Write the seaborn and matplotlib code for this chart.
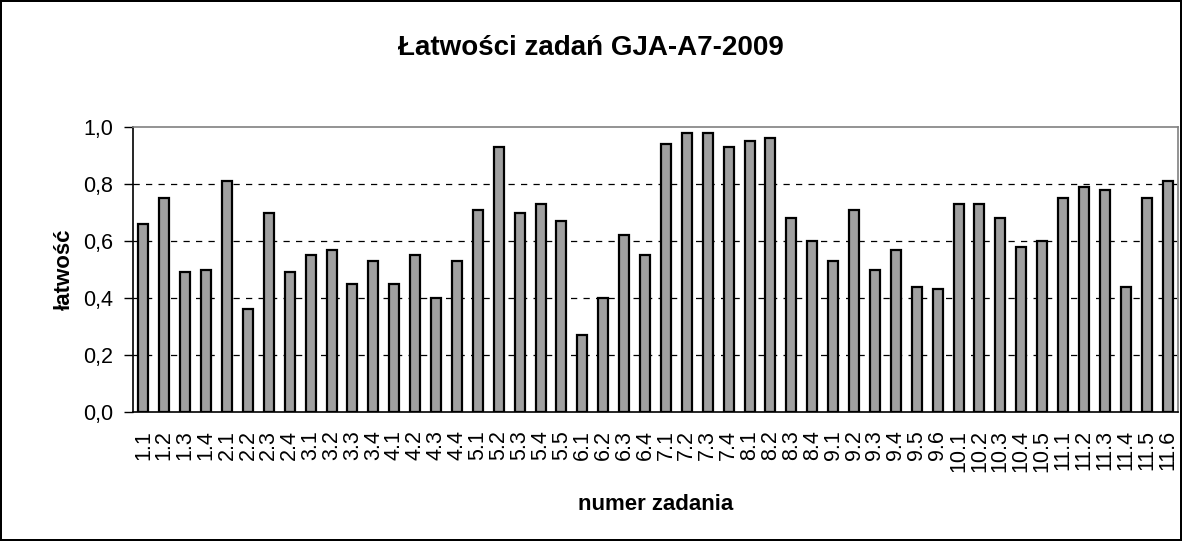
import matplotlib
matplotlib.use("Agg")
import matplotlib.pyplot as plt
import seaborn as sns
import pandas as pd

# task numbers and their facility values
zadania = ["1.1", "1.2", "1.3", "1.4", "2.1", "2.2", "2.3", "2.4",
           "3.1", "3.2", "3.3", "3.4", "4.1", "4.2", "4.3", "4.4",
           "5.1", "5.2", "5.3", "5.4", "5.5", "6.1", "6.2", "6.3", "6.4",
           "7.1", "7.2", "7.3", "7.4", "8.1", "8.2", "8.3", "8.4",
           "9.1", "9.2", "9.3", "9.4", "9.5", "9.6",
           "10.1", "10.2", "10.3", "10.4", "10.5",
           "11.1", "11.2", "11.3", "11.4", "11.5", "11.6"]
latwosc = [0.66, 0.75, 0.49, 0.50, 0.81, 0.36, 0.70, 0.49,
           0.55, 0.57, 0.45, 0.53, 0.45, 0.55, 0.40, 0.53,
           0.71, 0.93, 0.70, 0.73, 0.67, 0.27, 0.40, 0.62, 0.55,
           0.94, 0.98, 0.98, 0.93, 0.95, 0.96, 0.68, 0.60,
           0.53, 0.71, 0.50, 0.57, 0.44, 0.43,
           0.73, 0.73, 0.68, 0.58, 0.60,
           0.75, 0.79, 0.78, 0.44, 0.75, 0.81]
y_ticks = [0.0, 0.2, 0.4, 0.6, 0.8, 1.0]

df = pd.DataFrame({"zadanie": zadania, "latwosc": latwosc})

sns.set_style("white")
plt.rcParams["font.family"] = ["Liberation Sans", "DejaVu Sans"]
plt.rcParams.update({"text.color": "black", "axes.labelcolor": "black",
                     "xtick.color": "black", "ytick.color": "black"})

fig = plt.figure(figsize=(11.82, 5.41), dpi=100, linewidth=1.5, edgecolor="black")
ax = fig.add_axes([0.1125, 0.2384, 0.8841, 0.5268])

sns.barplot(data=df, x="zadanie", y="latwosc", color="#a0a0a0", saturation=1,
            width=0.48, edgecolor="black", linewidth=1.6, ax=ax, zorder=3)

ax.set_ylim(0, 1.0)
ax.set_xlim(-0.5, len(zadania) - 0.5)
ax.set_yticks(y_ticks)
ax.set_yticklabels([f"{v:.1f}".replace(".", ",") for v in y_ticks], fontsize=15.5)
for v in y_ticks[1:-1]:
    ax.axhline(v, color="black", linestyle=(0, (5, 5)), linewidth=0.9, zorder=1)

# labels under bars, ticks on category boundaries
ax.set_xticks(range(len(zadania)))
ax.set_xticklabels(zadania, rotation=90, fontsize=15.5)
ax.set_xticks([i + 0.5 for i in range(-1, len(zadania))], minor=True)
ax.tick_params(axis="x", which="major", length=0, pad=13)
ax.tick_params(axis="x", which="minor", length=6.5, width=1, color="black", direction="out")
ax.tick_params(axis="y", length=6.5, width=1, color="black", direction="out", left=True, pad=8)

for side in ["left", "bottom"]:
    ax.spines[side].set_color("black")
    ax.spines[side].set_linewidth(1.2)
for side in ["top", "right"]:
    ax.spines[side].set_color("#808080")
    ax.spines[side].set_linewidth(1.2)

ax.set_xlabel("numer zadania", fontsize=16, fontweight="bold", labelpad=16)
ax.set_ylabel("łatwość", fontsize=16, fontweight="bold", labelpad=6)
fig.suptitle("Łatwości zadań GJA-A7-2009", fontsize=20, fontweight="bold", x=0.5, y=0.935)

fig.savefig("out.png", dpi=100, edgecolor=fig.get_edgecolor())
